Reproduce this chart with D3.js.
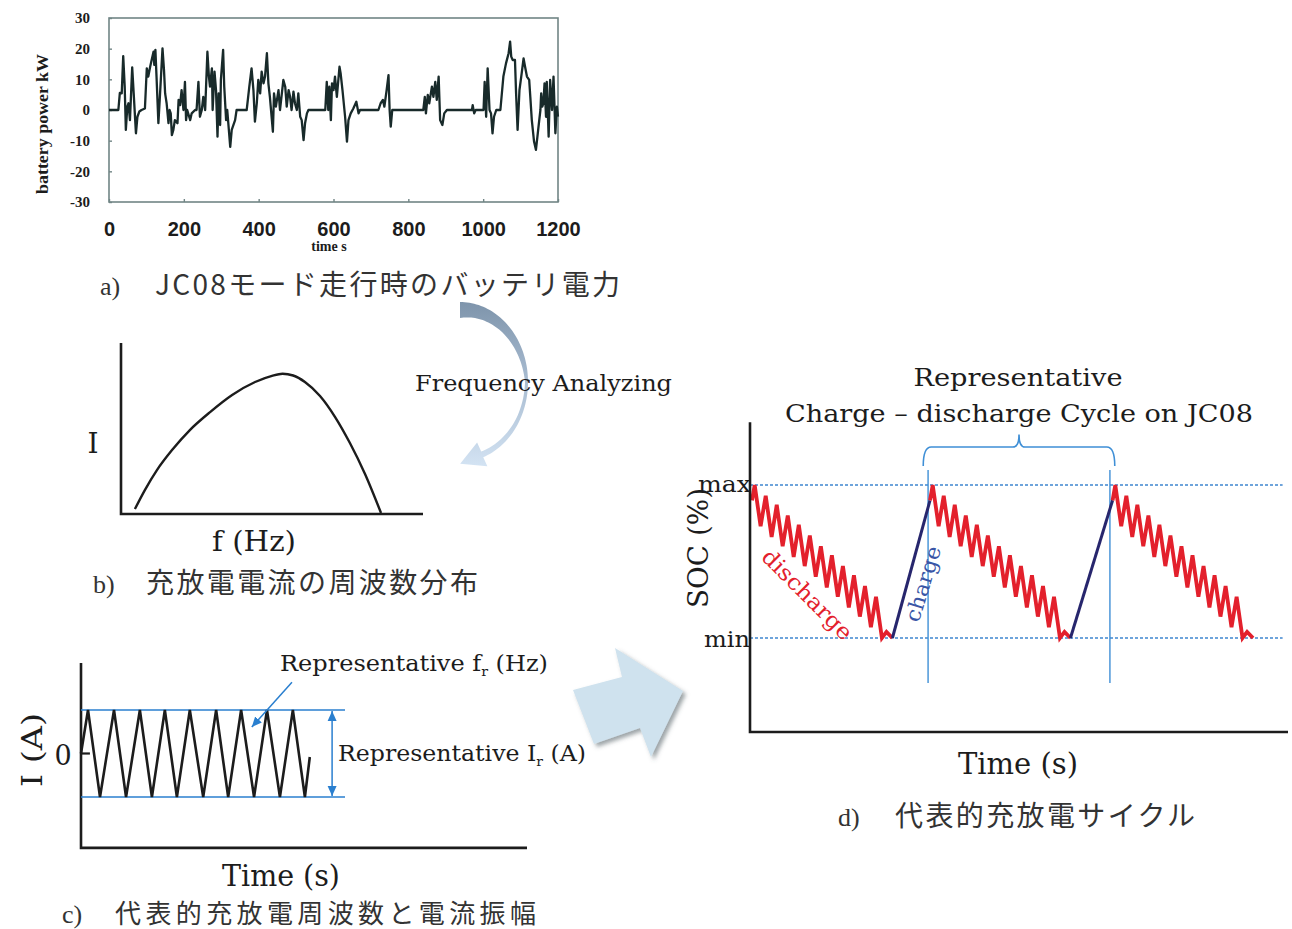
<!DOCTYPE html>
<html lang="ja">
<head>
  <meta charset="UTF-8">
  <title>JC08 representative charge-discharge cycle</title>
  <script src="https://d3js.org/d3.v7.min.js"></script>
  <style>
    body { margin: 0; background: #fff; }
    svg { display: block; }
  </style>
</head>
<body>
  <div id="vis"></div>
  <script>
    // a) battery power during the JC08 mode, [time s, kW]
    const powerTrace = [
      [0,0],[25,0],[29,5.6],[34,5.4],[38,17.6],[42,7.6],[45,-6.5],[49,1.1],[52,2.2],[56,-3.3],
      [62,13.9],[66,5.4],[70,-3.3],[72,-7.6],[76,-2.2],[81,-0.5],[87,0],[96,0.5],[101,13.6],[105,10.9],
      [110,14.1],[114,16.3],[119,19],[121,14.7],[124,19.6],[127,10.9],[132,-4.3],[136,4.3],[143,20.1],[147,13],
      [150,5.4],[154,2.2],[159,-4.3],[162,0],[165,-1.1],[168,-8.2],[172,-6.5],[176,-3.3],[183,-4.3],[186,3.3],
      [190,1.6],[194,6.5],[199,0],[203,9.2],[206,-3.3],[209,0],[217,-3.3],[221,-1.1],[230,0],[234,0],
      [239,9.2],[243,-2.2],[248,0],[252,4.3],[257,0],[263,19],[267,10.9],[270,7.6],[275,13.6],[277,0],
      [282,12.5],[286,6.5],[290,-8.7],[293,5.4],[297,-4.9],[299,9.8],[305,19.6],[308,7.6],[313,-3.3],[316,0],
      [324,-12],[328,-6.5],[337,-3.3],[341,0],[368,0],[375,7.6],[381,13.6],[386,6.5],[390,-3.8],[395,2.2],
      [399,9.8],[404,5.4],[408,12.5],[413,8.7],[417,10.9],[422,18.5],[426,8.7],[430,4.3],[438,-7.1],[441,5.4],
      [446,1.1],[453,6.5],[457,0],[462,5.4],[466,9.8],[471,7.6],[475,1.1],[480,6.5],[484,4.3],[488,0],
      [493,6],[497,2.2],[502,0],[506,5.4],[511,-2.2],[515,-3.3],[520,-9.8],[524,-4.3],[529,-1.1],[533,0],
      [578,0],[582,9.2],[586,0],[589,7.6],[593,-3.3],[596,8.7],[600,6.5],[604,10.9],[609,4.3],[616,14.1],
      [619,12],[624,6.5],[631,-2.2],[636,-10.3],[640,-3.3],[646,-1.1],[653,0.5],[661,2.7],[667,-1.1],[671,0],
      [720,0],[726,2.2],[732,3.3],[736,1.1],[742,6.5],[747,11.4],[750,0],[753,-5.4],[757,0],[840,0],
      [844,4.3],[847,-1.1],[852,4.9],[856,2.2],[863,7.6],[867,4.3],[872,9.2],[876,3.3],[881,10.9],[885,-3.3],
      [891,-4.9],[896,-1.1],[903,0],[970,0],[972,1.6],[976,-1.1],[980,0],[1001,0],[1004,9.2],[1008,-2.2],
      [1012,13.6],[1017,0],[1021,-1.1],[1025,-7.6],[1029,-2.2],[1035,0],[1046,0],[1054,10.9],[1061,15.2],[1068,18.5],
      [1072,22.3],[1075,17.4],[1079,16.3],[1085,16.3],[1088,5.4],[1092,-6.5],[1097,6.5],[1103,12],[1108,16.8],[1112,14.1],
      [1117,10.9],[1123,9.8],[1126,4.3],[1130,-3.3],[1136,-10.3],[1141,-13],[1145,-8.7],[1149,-4.3],[1153,0],[1155,5.4],
      [1158,1.1],[1161,2.2],[1164,8.7],[1168,-2.2],[1170,9.2],[1175,-8.7],[1179,9.8],[1184,0],[1188,10.9],[1193,-7.6],
      [1197,1.1],[1200,-2.2]
    ];
    const powerXTicks = [0, 200, 400, 600, 800, 1000, 1200];
    const powerYTicks = [30, 20, 10, 0, -10, -20, -30];

    // b) frequency distribution of the current, [f, I] (arbitrary units)
    const freqCurve = [
      [0.46,0.29],[0.79,1.4],[1.19,2.57],[1.69,3.74],[2.28,4.91],[2.95,5.96],[3.68,6.96],[4.44,7.72],
      [5.0,8.08],[5.35,8.2],[5.7,8.1],[6.09,7.72],[6.59,6.9],[7.09,5.67],[7.58,4.15],[8.08,2.34],[8.61,0.06]
    ];

    // c) representative current wave, [t, I] (I = +1 / -1 at the amplitude lines)
    const currentWave = [
      [0,0],[1.57,1],[4.26,-1],[7.4,1],[10.1,-1],[13.2,1],[15.9,-1],[18.8,1],[21.5,-1],
      [24.4,1],[27.4,-1],[30.3,1],[33.0,-1],[35.9,1],[38.8,-1],[41.7,1],[44.6,-1],[47.5,1],[50.2,-1],[51.3,-0.08]
    ];
    const ampLineEnd = 59.2;     // t where the amplitude lines stop
    const ampArrowAt = 56.3;     // t of the double arrow
    const freqPointer = [[47.3, 1.64], [38.3, 0.61]];

    // d) representative SOC cycle, one discharge leg as [dt, SOC %]
    const dischargeLeg = [
      [0,90],[0.5,100],[1.6,73],[2.55,93],[3.65,66],[4.6,87],[5.7,60],[6.65,80],[7.75,53],[8.7,74],
      [9.8,47],[10.75,67],[11.85,40],[12.8,60],[13.9,33],[14.85,54],[15.95,27],[16.9,47],[18.0,20],[18.95,41],
      [20.05,14],[21.0,34],[22.1,7],[23.05,27],[24.15,0],[25.0,4],[26.1,0]
    ];
    const cycleStarts = [0.37, 33.46, 67.4];
    const cycleMarks = [33.1, 66.9];
    const socLevels = [["max", 100], ["min", 0]];

    const captions = [
      ["a)", "JC08モード走行時のバッテリ電力"],
      ["b)", "充放電電流の周波数分布"],
      ["c)", "代表的充放電周波数と電流振幅"],
      ["d)", "代表的充放電サイクル"]
    ];

    const W = 1292, H = 929;
    const serif = '"DejaVu Serif", "Liberation Serif", serif';
    const times = '"Liberation Serif", "Times New Roman", serif';
    const jp = '"Noto Sans CJK JP", sans-serif';
    const ink = "#1c1c1c";

    const svg = d3.select("#vis").append("svg")
      .attr("width", W)
      .attr("height", H);
    const defs = svg.append("defs");

    defs.append("marker")
      .attr("id", "blueHead")
      .attr("viewBox", "0 0 10 10")
      .attr("refX", 10).attr("refY", 5)
      .attr("markerUnits", "userSpaceOnUse")
      .attr("markerWidth", 10).attr("markerHeight", 10)
      .attr("orient", "auto-start-reverse")
      .append("path").attr("d", "M0,0.5 L10,5 L0,9.5 Z").attr("fill", "#2a7fcf");

    const grad = defs.append("linearGradient")
      .attr("id", "arcGrad")
      .attr("gradientUnits", "userSpaceOnUse")
      .attr("x1", 0).attr("y1", 300).attr("x2", 0).attr("y2", 466);
    grad.append("stop").attr("offset", 0).attr("stop-color", "#7d93aa");
    grad.append("stop").attr("offset", 0.45).attr("stop-color", "#a5b9ce");
    grad.append("stop").attr("offset", 1).attr("stop-color", "#d3e3f3");

    defs.append("filter")
      .attr("id", "shadow")
      .attr("x", "-20%").attr("y", "-20%").attr("width", "150%").attr("height", "150%")
      .append("feDropShadow")
      .attr("dx", 3).attr("dy", 3).attr("stdDeviation", 2)
      .attr("flood-color", "#4d5861").attr("flood-opacity", 0.55);

    function text(g, str, x, y, size, opt = {}) {
      const t = g.append("text")
        .attr("x", x).attr("y", y)
        .attr("font-family", opt.family || serif)
        .attr("font-size", size)
        .attr("font-weight", opt.weight || "normal")
        .attr("fill", opt.fill || ink)
        .attr("text-anchor", opt.anchor || "start")
        .text(str);
      if (opt.len) t.attr("textLength", opt.len).attr("lengthAdjust", opt.adjust || "spacingAndGlyphs");
      if (opt.rotate != null) t.attr("transform", `rotate(${opt.rotate},${x},${y})`);
      return t;
    }

    // ---------- a) battery power ----------
    const ax = d3.scaleLinear().domain([0, 1200]).range([109, 558]);
    const ay = d3.scaleLinear().domain([-30, 30]).range([202, 18]);
    const ga = svg.append("g");

    ga.append("rect")
      .attr("x", ax.range()[0]).attr("y", ay.range()[1])
      .attr("width", ax.range()[1] - ax.range()[0])
      .attr("height", ay.range()[0] - ay.range()[1])
      .attr("fill", "none").attr("stroke", "#718585").attr("stroke-width", 1.6);

    const xAxisA = ga.append("g")
      .attr("transform", `translate(0,${ay.range()[0]})`)
      .call(d3.axisBottom(ax).tickValues(powerXTicks).tickSize(-3).tickPadding(20).tickFormat(d => String(d)));
    const yAxisA = ga.append("g")
      .attr("transform", `translate(${ax.range()[0]},0)`)
      .call(d3.axisLeft(ay).tickValues(powerYTicks).tickSize(-3).tickPadding(19).tickFormat(d => String(d)));
    [xAxisA, yAxisA].forEach(g => {
      g.select(".domain").remove();
      g.selectAll(".tick line").attr("stroke", "#718585").attr("stroke-width", 1.4);
    });
    xAxisA.selectAll("text")
      .attr("font-family", '"Liberation Sans", Arial, sans-serif')
      .attr("font-weight", "bold").attr("font-size", 20).attr("fill", ink);
    yAxisA.selectAll("text")
      .attr("font-family", times).attr("font-weight", "bold").attr("font-size", 15).attr("fill", ink);

    ga.append("path")
      .datum(powerTrace)
      .attr("d", d3.line().x(d => ax(d[0])).y(d => ay(d[1])))
      .attr("fill", "none")
      .attr("stroke", "#182a2a")
      .attr("stroke-width", 2.3)
      .attr("stroke-linejoin", "round");

    text(ga, "battery power kW", 48, 124, 16, { family: times, weight: "bold", anchor: "middle", rotate: -90, len: 140 });
    text(ga, "time s", 329, 251, 14, { family: times, weight: "bold", anchor: "middle" });

    // ---------- b) frequency distribution ----------
    const bx = d3.scaleLinear().domain([0, 10]).range([121, 423]);
    const by = d3.scaleLinear().domain([0, 10]).range([514, 343]);
    const gb = svg.append("g");
    gb.append("path")
      .attr("d", `M${bx(0)},${by(10)}V${by(0)}H${bx(10)}`)
      .attr("fill", "none").attr("stroke", ink).attr("stroke-width", 2.6);
    gb.append("path")
      .datum(freqCurve)
      .attr("d", d3.line().x(d => bx(d[0])).y(d => by(d[1])).curve(d3.curveMonotoneX))
      .attr("fill", "none").attr("stroke", ink).attr("stroke-width", 2.4);
    text(gb, "I", 93, 453, 28, { anchor: "middle" });
    text(gb, "f (Hz)", 212, 551, 28, { len: 84 });

    // curved "Frequency Analyzing" arrow
    const arc = { cx: 460, cy: 382, rx: 68, ry: 80, a0: -90, a1: 70 };
    const bandWidth = d3.scaleLinear().domain([-90, -45, 0, 30, 70]).range([16, 9, 3, 4, 6]);
    const rad = a => a * Math.PI / 180;
    const angles = d3.range(arc.a0, arc.a1 + 0.01, 2);
    const outer = angles.map(a => [arc.cx + arc.rx * Math.cos(rad(a)), arc.cy + arc.ry * Math.sin(rad(a))]);
    const inner = angles.map(a => {
      const w = bandWidth(a);
      return [arc.cx + (arc.rx - w) * Math.cos(rad(a)), arc.cy + (arc.ry - w) * Math.sin(rad(a))];
    });
    const e = rad(arc.a1), we = bandWidth(arc.a1);
    const mid = [arc.cx + (arc.rx - we / 2) * Math.cos(e), arc.cy + (arc.ry - we / 2) * Math.sin(e)];
    let tg = [-arc.rx * Math.sin(e), arc.ry * Math.cos(e)];
    let nm = [arc.ry * Math.cos(e), arc.rx * Math.sin(e)];
    const ln = v => Math.hypot(v[0], v[1]);
    tg = tg.map(v => v / ln(tg));
    nm = nm.map(v => v / ln(nm));
    const head = [
      [mid[0] + 13 * nm[0], mid[1] + 13 * nm[1]],
      [mid[0] + 24 * tg[0], mid[1] + 24 * tg[1]],
      [mid[0] - 13 * nm[0], mid[1] - 13 * nm[1]]
    ];
    svg.append("path")
      .attr("d", d3.line()([...outer, ...head, ...inner.reverse()]) + "Z")
      .attr("fill", "url(#arcGrad)");
    text(svg, "Frequency Analyzing", 415, 391, 23, { len: 257 });

    // ---------- c) representative frequency and amplitude ----------
    const cx = d3.scaleLinear().domain([0, 100]).range([81, 527]);
    const cy = d3.scaleLinear().domain([-1, 1]).range([797, 710]);
    const gc = svg.append("g");
    gc.append("path")
      .attr("d", `M${cx(0)},${cy(2.08)}V${cy(-2.17)}H${cx(100)}`)
      .attr("fill", "none").attr("stroke", ink).attr("stroke-width", 2.6);
    [1, -1].forEach(v => {
      gc.append("line")
        .attr("x1", cx(0)).attr("x2", cx(ampLineEnd))
        .attr("y1", cy(v)).attr("y2", cy(v))
        .attr("stroke", "#2a7fcf").attr("stroke-width", 1.6);
    });
    gc.append("line")
      .attr("x1", cx(0)).attr("x2", cx(2)).attr("y1", cy(0)).attr("y2", cy(0))
      .attr("stroke", ink).attr("stroke-width", 2.2);
    gc.append("path")
      .datum(currentWave)
      .attr("d", d3.line().x(d => cx(d[0])).y(d => cy(d[1])))
      .attr("fill", "none").attr("stroke", ink).attr("stroke-width", 2.6)
      .attr("stroke-linejoin", "miter");
    gc.append("line")
      .attr("x1", cx(ampArrowAt)).attr("x2", cx(ampArrowAt))
      .attr("y1", cy(1) + 1).attr("y2", cy(-1) - 1)
      .attr("stroke", "#2a7fcf").attr("stroke-width", 1.5)
      .attr("marker-start", "url(#blueHead)").attr("marker-end", "url(#blueHead)");
    gc.append("line")
      .attr("x1", cx(freqPointer[0][0])).attr("y1", cy(freqPointer[0][1]))
      .attr("x2", cx(freqPointer[1][0])).attr("y2", cy(freqPointer[1][1]))
      .attr("stroke", "#2a7fcf").attr("stroke-width", 1.5)
      .attr("marker-end", "url(#blueHead)");

    const fr = text(gc, "Representative f", 280, 671, 22);
    fr.append("tspan").attr("font-size", 13).attr("dy", 5).text("r");
    fr.append("tspan").attr("dy", -5).text(" (Hz)");
    fr.attr("textLength", 268).attr("lengthAdjust", "spacingAndGlyphs");
    const ir = text(gc, "Representative I", 338, 761, 22);
    ir.append("tspan").attr("font-size", 13).attr("dy", 5).text("r");
    ir.append("tspan").attr("dy", -5).text(" (A)");
    ir.attr("textLength", 248).attr("lengthAdjust", "spacingAndGlyphs");

    text(gc, "I (A)", 42, 750, 28, { anchor: "middle", rotate: -90, len: 74 });
    text(gc, "0", 63, 765, 27, { anchor: "middle" });
    text(gc, "Time (s)", 222, 886, 29, { len: 118 });

    // block arrow between c) and d)
    svg.append("path")
      .attr("d", "M573,690 L622,677 L615,648 L683,691 L651,757 L640,728 L594,744 Z")
      .attr("fill", "#cfe2ee")
      .attr("filter", "url(#shadow)");

    // ---------- d) representative charge-discharge cycle ----------
    const dx = d3.scaleLinear().domain([0, 100]).range([750, 1288]);
    const dy = d3.scaleLinear().domain([0, 100]).range([638, 485]);
    const gd = svg.append("g");

    socLevels.forEach(([name, soc]) => {
      gd.append("line")
        .attr("x1", dx(0)).attr("x2", dx(99))
        .attr("y1", dy(soc)).attr("y2", dy(soc))
        .attr("stroke", "#3f86d0").attr("stroke-width", 1.3)
        .attr("stroke-dasharray", "3,2");
    });
    cycleMarks.forEach(t => {
      gd.append("line")
        .attr("x1", dx(t)).attr("x2", dx(t))
        .attr("y1", dy(109.8)).attr("y2", dy(-29.4))
        .attr("stroke", "#3f8fd6").attr("stroke-width", 1.4);
    });

    // curly brace over one cycle
    const bL = dx(32.2), bR = dx(67.8), bM = (bL + bR) / 2;
    const yEnd = dy(112.4), yBar = dy(124.8), yTip = dy(133);
    gd.append("path")
      .attr("d", `M${bL},${yEnd} Q${bL},${yBar} ${bL + 8},${yBar} L${bM - 6},${yBar} Q${bM},${yBar} ${bM},${yTip}` +
                 ` Q${bM},${yBar} ${bM + 6},${yBar} L${bR - 8},${yBar} Q${bR},${yBar} ${bR},${yEnd}`)
      .attr("fill", "none").attr("stroke", "#3f8fd6").attr("stroke-width", 1.6);

    const dLine = d3.line().x(d => dx(d[0])).y(d => dy(d[1]));
    cycleStarts.forEach((s, i) => {
      const leg = dischargeLeg.map(d => [s + d[0], d[1]]);
      gd.append("path")
        .datum(leg)
        .attr("d", dLine)
        .attr("fill", "none").attr("stroke", "#e3202c").attr("stroke-width", 3.8)
        .attr("stroke-linejoin", "miter");
      if (i < cycleStarts.length - 1) {
        const last = leg[leg.length - 1];
        const next = [cycleStarts[i + 1] + dischargeLeg[0][0], dischargeLeg[0][1]];
        gd.append("path")
          .datum([last, next])
          .attr("d", dLine)
          .attr("fill", "none").attr("stroke", "#27266d").attr("stroke-width", 3);
      }
    });

    gd.append("path")
      .attr("d", `M${dx(0)},${dy(141)}V${dy(-61.4)}H${dx(100)}`)
      .attr("fill", "none").attr("stroke", ink).attr("stroke-width", 2.6);

    text(gd, "max", 698, dy(100) + 7, 22, { len: 53 });
    text(gd, "min", 704, dy(0) + 9, 22, { len: 46 });
    text(gd, "SOC (%)", 708, 548, 28, { anchor: "middle", rotate: -90, len: 120 });
    text(gd, "discharge", 802, 600, 22, { anchor: "middle", rotate: 45, fill: "#e3202c", len: 118 });
    text(gd, "charge", 930, 586, 21, { anchor: "middle", rotate: -73, fill: "#3a56a6", len: 78 });
    text(gd, "Representative", 1018, 386, 25, { anchor: "middle", len: 209 });
    text(gd, "Charge \u2013 discharge Cycle on JC08", 1019, 422, 25, { anchor: "middle", len: 468 });
    text(gd, "Time (s)", 1018, 774, 30, { anchor: "middle", len: 120 });

    // ---------- captions ----------
    const capPos = [
      { lx: 100, tx: 155, y: 295, len: 465 },
      { lx: 93, tx: 146, y: 593, len: 332 },
      { lx: 62, tx: 115, y: 923, len: 421 },
      { lx: 838, tx: 895, y: 826, len: 300 }
    ];
    captions.forEach(([tag, body], i) => {
      const p = capPos[i];
      text(svg, tag, p.lx, p.y, 26, { family: times, fill: "#333" });
      text(svg, body, p.tx, p.y, i === 2 ? 26 : 28, { family: jp, fill: "#333", len: p.len, adjust: "spacing" });
    });
  </script>
</body>
</html>
